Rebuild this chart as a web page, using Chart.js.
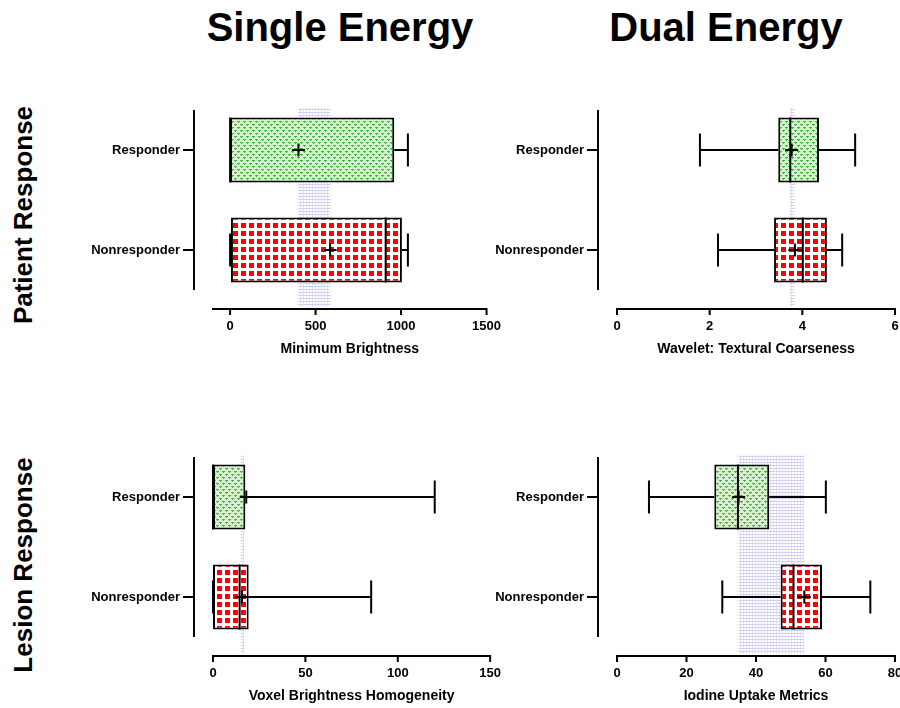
<!DOCTYPE html>
<html>
<head>
<meta charset="utf-8">
<script src="https://cdn.jsdelivr.net/npm/chart.js@4.4.1/dist/chart.umd.min.js"></script>
<style>
    html, body { margin: 0; overflow: hidden; }
    body { width: 900px; height: 708px; position: relative; background: #fff; font-family: "Liberation Sans", Arial, sans-serif; }
    canvas { position: absolute; }
    .title { position: absolute; font-weight: bold; font-size: 40px; line-height: 1; white-space: nowrap; transform: translateX(-50%); }
    .row { position: absolute; font-weight: bold; font-size: 26px; line-height: 1; white-space: nowrap; transform: translate(-50%, -50%) rotate(-90deg); }
</style>
</head>
<body>
<div class="title" style="left:340px; top:7px">Single Energy</div>
<div class="title" style="left:726px; top:7px">Dual Energy</div>
<div class="row" style="left:23px; top:215px">Patient Response</div>
<div class="row" style="left:23px; top:565px">Lesion Response</div>

<canvas id="brightChart" width="520" height="300" style="left:0; top:70px"></canvas>
<canvas id="waveletChart" width="520" height="300" style="left:404px; top:70px"></canvas>
<canvas id="voxelChart" width="520" height="300" style="left:0; top:417px"></canvas>
<canvas id="iodineChart" width="520" height="300" style="left:404px; top:417px"></canvas>

<script>
// groups on the y axis
const categories = ['Responder', 'Nonresponder'];

// five-number summaries per group: [min, q1, median, q3, max]
const brightBox = [[0, 0, 0, 960, 1040], [0, 5, 910, 1005, 1040]];
const brightMean = [400, 585];
const brightBand = [397, 586];
const brightTicks = [0, 500, 1000, 1500];

const waveletBox = [[1.79, 3.48, 3.74, 4.36, 5.14], [2.18, 3.39, 4.01, 4.53, 4.86]];
const waveletMean = [3.77, 3.84];
const waveletBand = [3.73, 3.83];
const waveletTicks = [0, 2, 4, 6];

const voxelBox = [[0, 0, 0, 17.5, 120], [0, 0, 14.4, 19.3, 85.6]];
const voxelMean = [18, 15.7];
const voxelBand = [15.2, 16.8];
const voxelTicks = [0, 50, 100, 150];

const iodineBox = [[9.2, 28.0, 34.8, 43.8, 60.1], [30.3, 47.1, 50.8, 59.0, 72.9]];
const iodineMean = [35, 53.9];
const iodineBand = [35, 53.9];
const iodineTicks = [0, 20, 40, 60, 80];

Chart.defaults.font.family = '"Liberation Sans", Arial, sans-serif';
Chart.defaults.color = '#000';

// fill patterns
function makePattern(w, h, draw) {
    const c = document.createElement('canvas');
    c.width = w; c.height = h;
    draw(c.getContext('2d'));
    return c.getContext('2d').createPattern(c, 'repeat');
}

const redPattern = makePattern(8, 8, g => {
    g.fillStyle = '#fff';
    g.fillRect(0, 0, 8, 8);
    g.fillStyle = '#ff0000';
    g.fillRect(1, 1, 5, 5);
});

const greenPattern = makePattern(6, 6, g => {
    g.fillStyle = '#d8f2d0';
    g.fillRect(0, 0, 6, 6);
    g.fillStyle = '#45b343';
    [[0, 0], [2, 0], [1, 1], [3, 3], [5, 3], [4, 4], [1, 0], [4, 3]].forEach(p => g.fillRect(p[0], p[1], 1, 1));
});

const bandPattern = makePattern(3, 3, g => {
    g.fillStyle = 'rgba(120, 120, 215, 0.35)';
    g.fillRect(0, 0, 3, 1);
    g.fillStyle = 'rgba(120, 120, 215, 0.2)';
    g.fillRect(0, 1, 1, 2);
});

function boxPlugin(box, mean, band) {
    return {
        id: 'boxPlot',
        beforeDatasetsDraw(chart) {
            const { ctx, chartArea } = chart;
            const x = chart.scales.x;
            const x0 = x.getPixelForValue(band[0]);
            const x1 = x.getPixelForValue(band[1]);
            ctx.save();
            ctx.fillStyle = bandPattern;
            ctx.fillRect(x0, chartArea.top + 8, x1 - x0, chartArea.bottom - chartArea.top - 1);
            ctx.restore();
        },
        afterDatasetsDraw(chart) {
            const { ctx } = chart;
            const { x, y } = chart.scales;
            const bars = chart.getDatasetMeta(0).data;
            ctx.save();
            ctx.strokeStyle = '#000';
            ctx.lineWidth = 2;
            box.forEach((b, i) => {
                const cy = y.getPixelForValue(i);
                const half = bars[i].height / 2;
                ctx.beginPath();
                // whiskers and caps
                ctx.moveTo(x.getPixelForValue(b[0]), cy);
                ctx.lineTo(x.getPixelForValue(b[1]), cy);
                ctx.moveTo(x.getPixelForValue(b[3]), cy);
                ctx.lineTo(x.getPixelForValue(b[4]), cy);
                [b[0], b[4]].forEach(v => {
                    const px = x.getPixelForValue(v);
                    ctx.moveTo(px, cy - 16.5);
                    ctx.lineTo(px, cy + 16.5);
                });
                // median
                const mx = x.getPixelForValue(b[2]);
                ctx.moveTo(mx, cy - half);
                ctx.lineTo(mx, cy + half);
                // mean
                const ax = x.getPixelForValue(mean[i]);
                ctx.moveTo(ax - 6.5, cy);
                ctx.lineTo(ax + 6.5, cy);
                ctx.moveTo(ax, cy - 6.5);
                ctx.lineTo(ax, cy + 6.5);
                ctx.stroke();
            });
            ctx.restore();
        },
        afterDraw(chart) {
            const { ctx, chartArea } = chart;
            const { x, y } = chart.scales;
            ctx.save();
            ctx.strokeStyle = '#000';
            ctx.lineWidth = 2;
            ctx.beginPath();
            // offset x axis
            const ay = chartArea.bottom + 9;
            ctx.moveTo(x.left - 1, ay);
            ctx.lineTo(x.right + 1, ay);
            x.ticks.forEach(t => {
                const px = x.getPixelForValue(t.value);
                ctx.moveTo(px, ay);
                ctx.lineTo(px, ay + 6);
            });
            // offset y axis
            const axx = chartArea.left - 19;
            ctx.moveTo(axx, chartArea.top + 10);
            ctx.lineTo(axx, chartArea.bottom - 10);
            categories.forEach((c, i) => {
                const py = y.getPixelForValue(i);
                ctx.moveTo(axx, py);
                ctx.lineTo(axx - 11, py);
            });
            ctx.stroke();
            ctx.restore();
        }
    };
}

function makePanel(id, box, mean, band, tickVals, xMin, xMax, title, rightPad) {
    const ctx = document.getElementById(id).getContext('2d');
    new Chart(ctx, {
        type: 'bar',
        data: {
            labels: categories,
            datasets: [{
                data: box.map(b => [b[1], b[3]]),
                backgroundColor: [greenPattern, redPattern],
                borderColor: '#000',
                borderWidth: 2,
                borderSkipped: false,
                barPercentage: 0.65,
                categoryPercentage: 1
            }]
        },
        options: {
            indexAxis: 'y',
            responsive: false,
            animation: false,
            layout: { padding: { top: 30, right: rightPad, bottom: 0, left: 0 } },
            plugins: { legend: { display: false }, tooltip: { enabled: false } },
            scales: {
                x: {
                    type: 'linear',
                    min: xMin,
                    max: xMax,
                    afterBuildTicks: s => { s.ticks = tickVals.map(v => ({ value: v })); },
                    afterFit: s => { s.height = 70; },
                    grid: { display: false, drawTicks: false },
                    border: { display: false },
                    ticks: {
                        font: { weight: 'bold', size: 13 },
                        padding: 19,
                        maxRotation: 0,
                        autoSkip: false,
                        callback: v => String(v)
                    },
                    title: {
                        display: true,
                        text: title,
                        font: { weight: 'bold', size: 14 },
                        padding: { top: 0, bottom: 12 }
                    }
                },
                y: {
                    // fixed width, and drop the label padding that would push the plot down
                    afterFit: s => { s.width = 213; s.paddingTop = 0; s.paddingBottom = 0; },
                    grid: { display: false, drawTicks: false },
                    border: { display: false },
                    ticks: { font: { weight: 'bold', size: 13 }, padding: 33 }
                }
            }
        },
        plugins: [boxPlugin(box, mean, band)]
    });
}

makePanel('brightChart', brightBox, brightMean, brightBand, brightTicks, -100, 1500, 'Minimum Brightness', 28);
makePanel('waveletChart', waveletBox, waveletMean, waveletBand, waveletTicks, 0, 6, 'Wavelet: Textural Coarseness', 29);
makePanel('voxelChart', voxelBox, voxelMean, voxelBand, voxelTicks, 0, 150, 'Voxel Brightness Homogeneity', 28);
makePanel('iodineChart', iodineBox, iodineMean, iodineBand, iodineTicks, 0, 80, 'Iodine Uptake Metrics', 29);
</script>
</body>
</html>
